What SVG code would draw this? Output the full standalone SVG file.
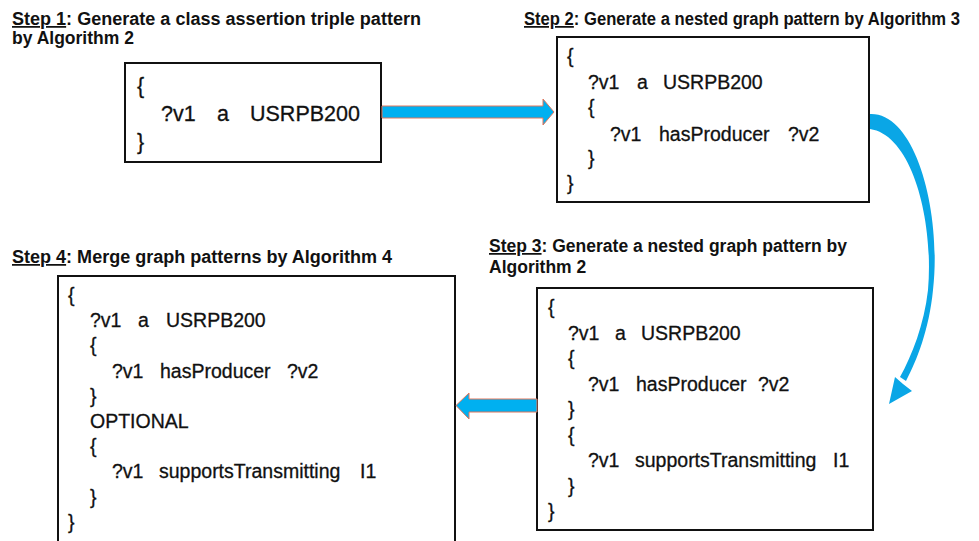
<svg xmlns="http://www.w3.org/2000/svg" width="979" height="541" viewBox="0 0 979 541">
<style>
.title{font-family:"Liberation Sans",Arial,sans-serif;font-weight:bold;font-size:17.5px;fill:#111}
.u{text-decoration:underline}
.code{font-family:"Liberation Sans",Arial,sans-serif;font-size:19.5px;fill:#111;stroke:#111;stroke-width:0.3}
.big{font-size:21.5px}
.box{fill:#fff;stroke:#111;stroke-width:2}
.arrow{fill:#00b0f0;stroke:#e0765c;stroke-width:1}
.curve{fill:#0aa6e6}
</style>
<rect width="979" height="541" fill="#fff"/>

<g id="step1">
<text class="title" x="12" y="25" textLength="409" lengthAdjust="spacingAndGlyphs"><tspan class="u">Step 1</tspan>: Generate a class assertion triple pattern</text>
<text class="title" x="12" y="44">by Algorithm 2</text>
<rect class="box" x="125" y="63" width="256" height="99"/>
<text class="code big" x="137" y="93">{</text>
<text class="code big" y="121"><tspan x="161">?v1</tspan><tspan x="217">a</tspan><tspan x="250">USRPB200</tspan></text>
<text class="code big" x="137" y="149">}</text>
</g>

<g id="step2">
<text class="title" x="524" y="25" textLength="436" lengthAdjust="spacingAndGlyphs"><tspan class="u">Step 2</tspan>: Generate a nested graph pattern by Algorithm 3</text>
<rect class="box" x="557" y="37" width="312" height="165"/>
<text class="code" x="567" y="63">{</text>
<text class="code" y="89"><tspan x="588">?v1</tspan><tspan x="637">a</tspan><tspan x="663">USRPB200</tspan></text>
<text class="code" x="588" y="114">{</text>
<text class="code" y="141"><tspan x="610">?v1</tspan><tspan x="659">hasProducer</tspan><tspan x="788">?v2</tspan></text>
<text class="code" x="588" y="165">}</text>
<text class="code" x="567" y="190">}</text>
</g>

<g id="step3">
<text class="title" x="489" y="252" textLength="358" lengthAdjust="spacingAndGlyphs"><tspan class="u">Step 3</tspan>: Generate a nested graph pattern by</text>
<text class="title" x="489" y="273">Algorithm 2</text>
<rect class="box" x="537" y="288" width="336" height="242"/>
<text class="code" x="548" y="314">{</text>
<text class="code" y="339.5"><tspan x="568">?v1</tspan><tspan x="615">a</tspan><tspan x="641">USRPB200</tspan></text>
<text class="code" x="568" y="365">{</text>
<text class="code" y="390.5"><tspan x="588">?v1</tspan><tspan x="636">hasProducer</tspan><tspan x="758">?v2</tspan></text>
<text class="code" x="568" y="416">}</text>
<text class="code" x="568" y="441.5">{</text>
<text class="code" y="467"><tspan x="588">?v1</tspan><tspan x="635">supportsTransmitting</tspan><tspan x="833">I1</tspan></text>
<text class="code" x="568" y="492.5">}</text>
<text class="code" x="548" y="518">}</text>
</g>

<g id="step4">
<text class="title" x="12" y="263" textLength="380" lengthAdjust="spacingAndGlyphs"><tspan class="u">Step 4</tspan>: Merge graph patterns by Algorithm 4</text>
<rect class="box" x="58" y="276" width="397" height="275"/>
<text class="code" x="68" y="302">{</text>
<text class="code" y="327"><tspan x="90">?v1</tspan><tspan x="138">a</tspan><tspan x="166">USRPB200</tspan></text>
<text class="code" x="90" y="352.4">{</text>
<text class="code" y="377.6"><tspan x="112">?v1</tspan><tspan x="160">hasProducer</tspan><tspan x="287">?v2</tspan></text>
<text class="code" x="90" y="402.8">}</text>
<text class="code" x="90" y="428">OPTIONAL</text>
<text class="code" x="90" y="453.2">{</text>
<text class="code" y="478.4"><tspan x="112">?v1</tspan><tspan x="159">supportsTransmitting</tspan><tspan x="360">I1</tspan></text>
<text class="code" x="90" y="503.6">}</text>
<text class="code" x="68" y="528.8">}</text>
</g>

<g id="connectors">
<path class="arrow" d="M382,106 L543,106 L543,99 L554,112 L543,125 L543,118 L382,118 Z"/>
<path class="arrow" d="M537,399 L469,399 L469,393 L456,405.5 L469,419 L469,412 L537,412 Z"/>
<path class="curve" d="M870,114 C915,112 942,210 933,290 C929,330 917,360 906,381 L900,377 C912,355 924,325 928,290 C934,220 912,135 870,129 Z"/>
<path class="curve" d="M889,404 L895,377 L903,384 L912,391 Z"/>
</g>
</svg>
